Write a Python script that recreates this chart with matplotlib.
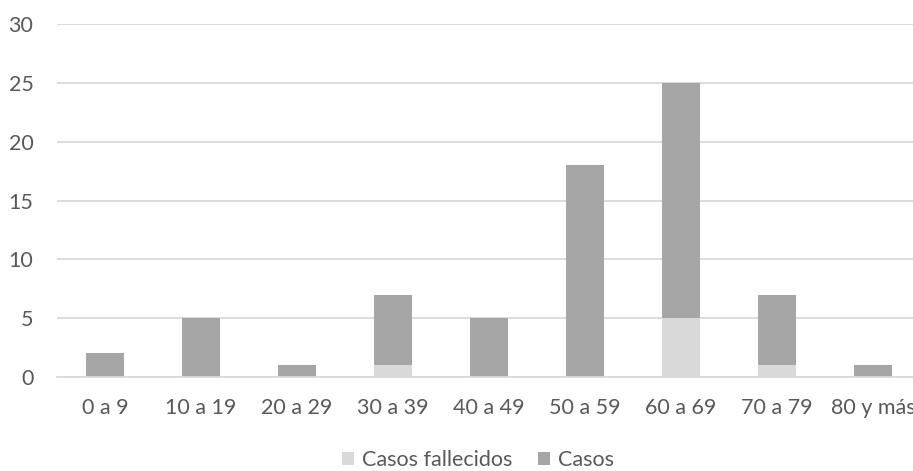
import matplotlib.pyplot as plt
import numpy as np

grupos = ["0 a 9", "10 a 19", "20 a 29", "30 a 39", "40 a 49",
          "50 a 59", "60 a 69", "70 a 79", "80 y más"]
fallecidos = [0, 0, 0, 1, 0, 0, 5, 1, 0]
casos = [2, 5, 1, 6, 5, 18, 20, 6, 1]

C_FALLECIDOS = "#D9D9D9"
C_CASOS = "#A5A5A5"
C_TEXT = "#595959"
C_GRID = "#D9D9D9"
FS = 15.5

plt.rcParams["font.family"] = ["Lato", "DejaVu Sans"]

fig = plt.figure(figsize=(9.13, 4.71), dpi=100, facecolor="white")
# plot area runs slightly past the right edge of the canvas
ax = fig.add_axes([57 / 913, 1 - 377 / 471, 864 / 913, (377 - 24) / 471])

x = np.arange(len(grupos))
w = 0.4
ax.bar(x, fallecidos, w, color=C_FALLECIDOS, label="Casos fallecidos", zorder=2)
ax.bar(x, casos, w, bottom=fallecidos, color=C_CASOS, label="Casos", zorder=2)

ax.set_xlim(-0.5, len(grupos) - 0.5)
ax.set_ylim(0, 30)
ax.set_yticks(range(0, 31, 5))
ax.set_xticks(x)
ax.set_xticklabels(grupos)
ax.tick_params(axis="both", length=0, labelsize=FS, colors=C_TEXT)
ax.tick_params(axis="y", pad=17)
ax.tick_params(axis="x", pad=15)

ax.grid(True, axis="y", color=C_GRID, linewidth=1.3, zorder=0)
for s in ["top", "right", "left"]:
    ax.spines[s].set_visible(False)
ax.spines["bottom"].set_color(C_GRID)
ax.spines["bottom"].set_linewidth(1.3)

fig.legend(loc="center", bbox_to_anchor=(478 / 913, 1 - 460 / 471), ncol=2,
           frameon=False, fontsize=FS, labelcolor=C_TEXT,
           handlelength=0.56, handleheight=0.56, handletextpad=0.35,
           columnspacing=1.2)

fig.savefig("out.png", dpi=100, facecolor="white")
